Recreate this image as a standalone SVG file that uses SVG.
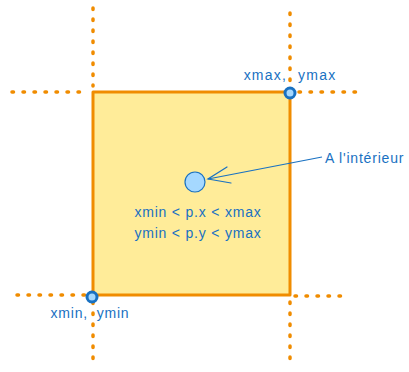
<svg xmlns="http://www.w3.org/2000/svg" width="409" height="372" viewBox="0 0 409 372">
<style>
.dot{stroke:#f08c00;stroke-width:3.5;stroke-linecap:round;stroke-dasharray:1.5 9.5;fill:none}
.lbl{font-family:"Liberation Sans",Arial,sans-serif;font-size:14px;fill:#1971c2;letter-spacing:0.8px}
.pt{fill:#a5d8ff;stroke:#1971c2}
</style>
<rect width="409" height="372" fill="#ffffff"/>
<g id="guides">
<line class="dot" x1="93" y1="8" x2="93" y2="86"/>
<line class="dot" x1="93" y1="302" x2="93" y2="368"/>
<line class="dot" x1="290" y1="13" x2="290" y2="86"/>
<line class="dot" x1="290" y1="302" x2="290" y2="368"/>
<line class="dot" x1="12" y1="92" x2="86" y2="92"/>
<line class="dot" x1="299" y1="92" x2="356" y2="92"/>
<line class="dot" x1="17" y1="295" x2="86" y2="295"/>
<line class="dot" x1="295" y1="296" x2="350" y2="296"/>
</g>
<g id="box">
<rect x="93" y="92" width="197" height="203" fill="#ffec99" stroke="#f08c00" stroke-width="3" stroke-linejoin="round"/>
<text class="lbl" x="198" y="217" text-anchor="middle">xmin &lt; p.x &lt; xmax</text>
<text class="lbl" x="198" y="238" text-anchor="middle">ymin &lt; p.y &lt; ymax</text>
</g>
<g id="pmax">
<circle class="pt" cx="290" cy="93" r="5" stroke-width="3"/>
<text class="lbl" x="290" y="80" text-anchor="middle" style="letter-spacing:1.2px;word-spacing:6px">xmax, ymax</text>
</g>
<g id="pmin">
<circle class="pt" cx="92" cy="297" r="5" stroke-width="3"/>
<text class="lbl" x="90" y="318" text-anchor="middle" style="word-spacing:4px">xmin, ymin</text>
</g>
<g id="point">
<circle class="pt" cx="195" cy="182" r="10" stroke-width="1.2"/>
</g>
<g id="connectors">
<path d="M322,157 L208,179" stroke="#1971c2" stroke-width="1.2" fill="none"/>
<path d="M227,167 L208,179 L231,183" stroke="#1971c2" stroke-width="1.2" fill="none" stroke-linecap="round"/>
</g>
<g id="label">
<text class="lbl" x="325" y="163">A l'intérieur</text>
</g>
</svg>
